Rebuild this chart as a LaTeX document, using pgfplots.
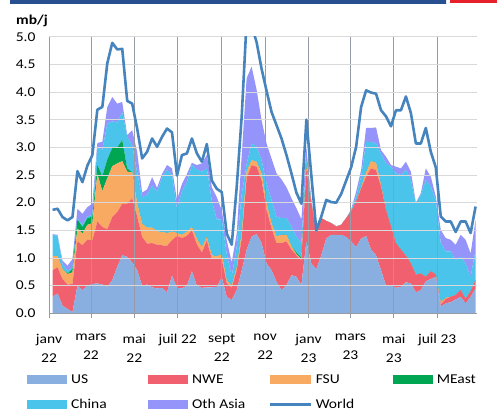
\documentclass[border=0pt]{standalone}
\usepackage{fontspec}
\setmainfont{Carlito}[FakeStretch=1.15]
\usepackage{pgfplots}
\usepackage{pgfplotstable}
\pgfplotsset{compat=1.18}

\definecolor{cUS}{RGB}{137,174,224}
\definecolor{cNWE}{RGB}{241,96,110}
\definecolor{cFSU}{RGB}{249,170,98}
\definecolor{cME}{RGB}{0,166,81}
\definecolor{cCH}{RGB}{75,196,236}
\definecolor{cOA}{RGB}{148,148,250}
\definecolor{cW}{RGB}{70,132,190}
\definecolor{hgray}{RGB}{217,217,217}
\definecolor{vgray}{RGB}{150,155,165}
\definecolor{barA}{RGB}{40,80,145}
\definecolor{barB}{RGB}{95,140,200}
\definecolor{barR}{RGB}{232,32,42}

% day of year (from 1 Jan 2022), then weekly values in mb/j
\pgfplotstableread{
d US NWE FSU ME CH OA W
5 .30 .48 .25 0 .39 .01 1.87
12 .36 .47 .21 0 .36 .02 1.89
19 .14 .48 .18 0 .09 .06 1.74
26 .08 .44 .19 .01 .05 .09 1.68
33 .02 .51 .21 .06 .03 .15 1.74
40 .50 .80 .23 .17 .02 .17 2.57
47 .42 .81 .21 .12 .04 .20 2.37
54 .50 .83 .27 .12 .03 .17 2.67
61 .53 .79 .31 .12 .03 .20 2.86
68 .54 1.12 .86 .16 .32 .08 3.68
75 .52 1.04 .65 .27 .47 .15 3.73
82 .48 1.04 .92 .34 .65 .30 4.52
89 .60 1.14 .92 .33 .48 .44 4.89
96 .84 .99 .88 .29 .45 .34 4.77
103 1.05 .93 .77 .38 .51 .18 4.78
110 1.02 .96 .58 .06 .57 .03 3.84
117 .92 1.16 .47 0 .49 .27 3.79
124 .78 .97 .24 0 .56 .37 3.34
131 .50 .88 .24 0 .48 .08 2.80
138 .52 .74 .29 0 .59 .10 2.92
145 .47 .80 .28 0 .76 .15 3.16
152 .45 .79 .24 0 .72 .07 3.01
159 .46 .77 .24 0 .99 .06 3.19
166 .38 .84 .23 0 1.15 .08 3.34
173 .68 .64 .16 0 1.02 .12 3.27
180 .46 .94 .05 0 .44 .16 2.49
187 .45 .91 .06 0 .78 .14 2.86
194 .50 .90 .08 0 .90 .14 2.89
201 .76 .74 .06 0 1.12 .04 3.16
208 .50 .75 .10 0 1.25 .08 2.89
215 .46 .64 .10 0 1.36 .15 2.74
222 .47 .85 .06 0 1.24 .24 3.06
229 .47 .51 .07 0 .99 .24 2.40
236 .48 .50 .05 0 .67 .40 2.25
243 .65 .33 .09 0 .63 .16 2.19
250 .30 .25 .05 0 .47 .25 1.44
257 .24 .22 .04 0 .17 .25 1.24
264 .42 .36 .05 0 .37 .24 2.28
271 .77 .58 .10 0 .70 .70 3.55
278 1.15 1.30 .12 0 .13 1.55 5.30
285 1.39 1.29 .09 0 .30 1.39 5.20
292 1.43 1.22 .09 0 .27 1.03 4.90
299 1.27 1.14 .12 0 .24 .72 4.42
306 .90 .97 .12 0 .36 .72 4.02
313 .78 .76 .09 0 .42 .75 3.64
320 .57 .70 .12 0 .36 .78 3.40
327 .42 .85 .15 0 .30 .70 3.16
334 .51 .79 .12 0 .30 .56 2.86
341 .69 .46 .06 0 .36 .51 2.53
348 .66 .39 .02 .03 .29 .51 2.18
355 .51 .45 .02 .03 .26 .43 1.98
362 1.30 1.30 .05 0 .13 .22 3.50
369 .90 1.10 0 0 .03 .02 2.49
376 .80 .65 0 0 0 0 1.50
383 1.05 .67 0 0 0 0 1.75
390 1.35 .32 0 0 0 0 2.05
397 1.42 .21 0 0 0 0 2.01
404 1.42 .15 0 0 0 0 2.00
411 1.42 .18 0 0 0 0 2.16
418 1.38 .34 0 0 0 0 2.40
425 1.30 .54 0 0 .02 .02 2.64
432 1.20 .82 0 0 .09 .09 3.01
439 1.35 .91 .02 0 .19 .12 3.73
446 1.40 1.07 .08 0 .55 .25 4.03
453 1.15 1.47 .13 0 .35 .25 3.99
460 1.05 1.54 .13 0 .35 .29 3.97
467 .78 1.51 .03 0 .57 .06 3.67
474 .50 1.37 0 0 .84 .12 3.56
481 .51 1.06 0 0 1.08 .03 3.38
488 .46 .81 0 0 1.26 .12 3.67
495 .48 .67 0 0 1.35 .12 3.67
502 .56 .48 0 0 1.55 .15 3.92
509 .54 .36 0 0 1.51 .15 3.62
516 .38 .32 0 0 1.29 .01 3.07
523 .42 .30 0 0 1.42 .03 3.07
530 .58 .08 0 0 1.75 .21 3.35
537 .62 .14 0 0 1.53 .18 2.92
544 .66 .04 0 0 1.35 .06 2.64
551 .12 .04 .04 0 1.07 .24 1.75
558 .18 .08 .02 0 .84 .24 1.66
565 .20 .10 0 0 .82 .21 1.66
572 .25 .08 0 0 .63 .28 1.47
579 .30 .12 0 0 .60 .40 1.66
586 .18 .08 0 0 .64 .43 1.66
593 .30 .10 0 0 .26 .42 1.45
600 .45 .15 0 0 .55 .54 1.93
}\jetdata

\newcommand{\lfont}{\fontsize{13.5}{15}\selectfont}
\newcommand{\lbl}[1]{\makebox[77pt][l]{\strut #1}}

\pgfplotsset{
  areaimg/.style={legend image code/.code={\fill[##1] (0pt,-4.3pt) rectangle (40pt,4.3pt);}},
  lineimg/.style={legend image code/.code={\draw[##1] (0pt,0pt) -- (40pt,0pt);}},
  frame/.style={at={(49pt,-313.3pt)}, anchor=south west, scale only axis,
    width=428pt, height=276.6pt, xmin=0, xmax=602, ymin=0, ymax=5},
}

\begin{document}
\begin{tikzpicture}[font=\lfont]
\useasboundingbox (0pt,0pt) rectangle (497pt,-416pt);
\shade[left color=barA, middle color=barB, right color=barA] (10pt,0pt) rectangle (446pt,-3.3pt);
\fill[barR] (450pt,0pt) rectangle (497pt,-3.3pt);
\node[anchor=base west, font=\lfont\bfseries, inner sep=0pt] at (16pt,-24pt) {mb/j};

\begin{axis}[frame,
  stack plots=y,
  axis on top,
  axis x line*=bottom, axis y line*=left,
  axis line style={-, draw=vgray, line width=0.8pt},
  xtick={0,59,120,181,243,304,365,424,485,546},
  xticklabels={janv\\22, mars\\22, mai\\22, juil 22, sept\\22, nov\\22, janv\\23, mars\\23, mai\\23, juil 23},
  tick label style={font=\lfont},
  xticklabel style={align=center, font=\fontsize{13.5}{19}\selectfont, yshift=-12pt},
  ytick={0,0.5,...,5},
  yticklabel style={/pgf/number format/.cd, fixed, fixed zerofill, precision=1, /tikz/.cd, xshift=-5pt},
  /pgf/number format/assume math mode=true,
  xmajorgrids, ymajorgrids,
  x grid style={draw=vgray, line width=0.8pt},
  y grid style={draw=hgray, line width=0.8pt},
  tick align=outside, major tick length=5pt,
  xtick style={draw=vgray, line width=0.8pt},
  ytick style={draw=none},
  legend columns=4,
  legend cell align=left,
  legend style={at={(-0.0514,-0.216)}, anchor=north west, draw=none, fill=none,
    inner sep=0pt, row sep=13pt, nodes={inner sep=0pt}, font=\lfont,
    /tikz/every odd column/.append style={column sep=4pt},
    /tikz/every even column/.append style={column sep=0pt}},
]
\addplot[fill=cUS, draw=none, areaimg] table[x=d, y=US] {\jetdata} \closedcycle;
\addlegendentry{\lbl{US}}
\addplot[fill=cNWE, draw=none, areaimg] table[x=d, y=NWE] {\jetdata} \closedcycle;
\addlegendentry{\lbl{NWE}}
\addplot[fill=cFSU, draw=none, areaimg] table[x=d, y=FSU] {\jetdata} \closedcycle;
\addlegendentry{\lbl{FSU}}
\addplot[fill=cME, draw=none, areaimg] table[x=d, y=ME] {\jetdata} \closedcycle;
\addlegendentry{\lbl{MEast}}
\addplot[fill=cCH, draw=none, areaimg] table[x=d, y=CH] {\jetdata} \closedcycle;
\addlegendentry{\lbl{China}}
\addplot[fill=cOA, draw=none, areaimg] table[x=d, y=OA] {\jetdata} \closedcycle;
\addlegendentry{\lbl{Oth Asia}}
\addlegendimage{cW, line width=2.6pt, lineimg}
\addlegendentry{\lbl{World}}
\end{axis}

\begin{axis}[frame, hide axis]
\addplot[cW, line width=2.6pt, line join=round] table[x=d, y=W] {\jetdata};
\end{axis}
\end{tikzpicture}
\end{document}
